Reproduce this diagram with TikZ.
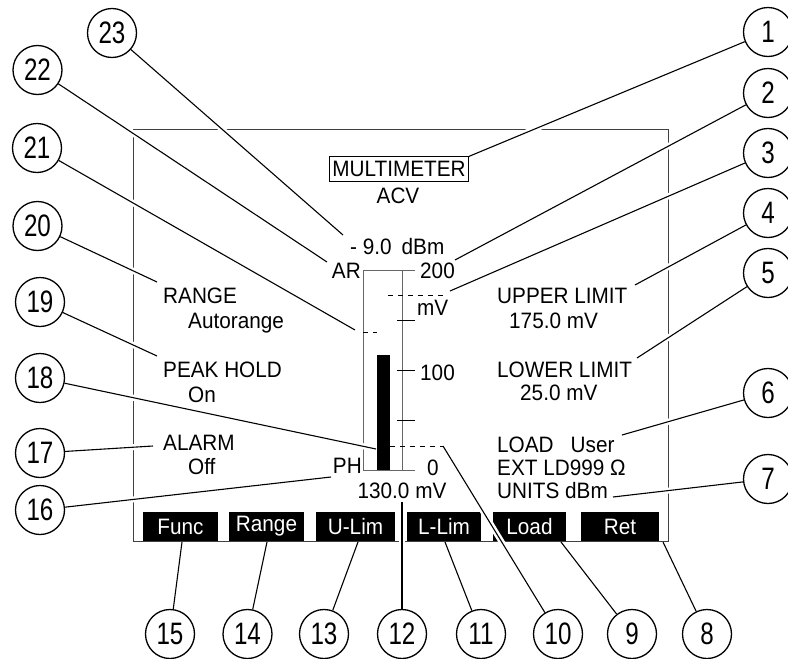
\documentclass[tikz,border=0pt]{standalone}
\usepackage{fontspec}
\setmainfont{Liberation Sans}[FakeStretch=0.93]
\newfontfamily\numfont{Liberation Sans}[FakeStretch=0.78]
\tikzset{
  num/.style   = {draw, circle, line width=1.3pt, minimum size=49pt,
                  inner sep=0pt, font=\numfont\fontsize{31}{31}\selectfont},
  lbl/.style   = {inner sep=0pt, font=\fontsize{22.3}{26}\selectfont},
  key/.style   = {fill=black, text=white, inner sep=0pt, minimum height=29pt,
                  font=\fontsize{22.3}{26}\selectfont},
  lead/.style  = {line width=1.1pt,
                  preaction={draw, white, line width=6pt,
                             shorten <=2pt, shorten >=4pt}},
  frame/.style = {line width=0.8pt, black!75},
  scl/.style   = {line width=0.5pt, black!60},
  tck/.style   = {line width=1pt},
  lim/.style   = {line width=0.7pt, dash pattern=on 5pt off 5pt}
}

\begin{document}
\begin{tikzpicture}[x=1pt, y=-1pt]
    \useasboundingbox (0,0) rectangle (788,659);

    % Screen frame
    \draw[frame] (133,129) rectangle (668,541);

    % Header
    \node[lbl, draw, line width=0.7pt, inner xsep=3pt, inner ysep=4.5pt] (mm) at (399,169) {MULTIMETER};
    \node[lbl, anchor=base] (acv) at (398,203) {ACV};
    \node[lbl, anchor=base west] (dbm) at (350,254) {-~9.0\hspace{10pt}dBm};

    % Bar scale
    \draw[scl] (363,270) -- (415,270);
    \draw[scl] (363,470) -- (415,470);
    \draw[scl] (363,270) -- (363,470);
    \draw[scl] (402,270) -- (402,470);
    \foreach \v in {50,100,150}
      \draw[tck] (397,470-\v) -- (415,470-\v);
    \fill (377,355) rectangle (390,470);
    \draw[lim] (388,295) -- (447,295);
    \draw[lim] (390,446) -- (443,446);
    \draw[lim] (363,332) -- (377,332);
    \node[lbl, anchor=base east] (ar) at (361,278) {AR};
    \node[lbl, anchor=base east] (ph) at (362,473) {PH};
    \node[lbl, anchor=base west] (s200) at (420,278) {200};
    \node[lbl, anchor=base west] (mv) at (417,315) {mV};
    \node[lbl, anchor=base west] (s100) at (420,380) {100};
    \node[lbl, anchor=base west] (s0) at (427,475) {0};
    \node[lbl, anchor=base] (meas) at (402,498) {130.0 mV};

    % Left settings
    \node[lbl, anchor=base west] (rng) at (163,303) {RANGE};
    \node[lbl, anchor=base west] (rngv) at (188,328) {Autorange};
    \node[lbl, anchor=base west] (pk) at (163,377) {PEAK HOLD};
    \node[lbl, anchor=base west] (pkv) at (188,402) {On};
    \node[lbl, anchor=base west] (alm) at (163,450) {ALARM};
    \node[lbl, anchor=base west] (almv) at (188,474) {Off};

    % Right settings
    \node[lbl, anchor=base west] (upl) at (497,303) {UPPER LIMIT};
    \node[lbl, anchor=base west] (uplv) at (509,328) {175.0 mV};
    \node[lbl, anchor=base west] (lowl) at (497,377) {LOWER LIMIT};
    \node[lbl, anchor=base west] (lowlv) at (520,400) {25.0 mV};
    \node[lbl, anchor=base west] (load) at (497,452) {LOAD\hspace{17pt}User};
    \node[lbl, anchor=base west] (ext) at (497,475) {EXT LD999 Ω};
    \node[lbl, anchor=base west] (units) at (497,498) {UNITS dBm};

    % Softkeys
    \foreach \k/\x/\w/\txt in {func/180.5/75/Func, range/266.5/75/Range,
        ulim/355.5/79/U-Lim, llim/444/74/L-Lim, load/529.5/73/Load, ret/620/78/Ret}
      \node[key, minimum width=\w pt] (k\k) at (\x,526.5) {\txt};

    % Callout circles
    \foreach \n/\x/\y in {1/768/32, 2/768/93, 3/768/153, 4/768/213, 5/768/273,
        6/768/393, 7/768/479, 8/707/634, 9/632/634, 10/558/634, 11/481/634,
        12/402/634, 13/324/634, 14/247.5/634, 15/170/634, 16/40/510,
        17/40/453, 18/40/378, 19/40/302, 20/37.5/226, 21/37/148,
        22/37.5/70, 23/112/33}
      \node[num] (c\n) at (\x,\y) {\n};

    % Callout targets
    \coordinate (t1) at (mm.north east);
    \coordinate (t2) at (455,260);
    \coordinate (t3) at (450,291);
    \coordinate (t4) at (635,285);
    \coordinate (t5) at (637,358);
    \coordinate (t6) at (622,435);
    \coordinate (t7) at (613,497);
    \coordinate (t8) at (663,542);
    \coordinate (t9) at (561,542);
    \coordinate (t10) at (443,446);
    \coordinate (t11) at (445,542);
    \coordinate (t12) at (402,502);
    \coordinate (t13) at (358,542);
    \coordinate (t14) at (267,542);
    \coordinate (t15) at (182,542);
    \coordinate (t16) at (331,477);
    \coordinate (t17) at (153,446);
    \coordinate (t18) at (376,449);
    \coordinate (t19) at (157,356);
    \coordinate (t20) at (157,282);
    \coordinate (t21) at (355,330);
    \coordinate (t22) at (327,262);
    \coordinate (t23) at (343,235);

    % Leader lines
    \foreach \n in {1,...,23}
      \draw[lead] (c\n) -- (t\n);
\end{tikzpicture}
\end{document}
